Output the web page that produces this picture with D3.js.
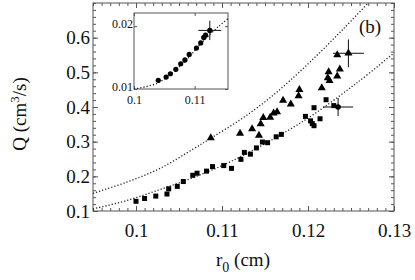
<!DOCTYPE html>
<html lang="en">
<head>
<meta charset="utf-8">
<title>Q vs r0</title>
<script src="https://cdn.jsdelivr.net/npm/d3@7"></script>
<style>
  body { margin: 0; background: #fff; }
  svg { display: block; }
  .frame { fill: none; stroke: #555; stroke-width: 1; }
  .axis path { display: none; }
  .axis line { stroke: #555; }
  .fit { fill: none; stroke: #222; stroke-width: 1.3; stroke-dasharray: 1.2, 2; }
  .err { stroke: #111; stroke-width: 1; }
</style>
</head>
<body>
<script>
// main panel: squares
var sqR = [0.1000, 0.1010, 0.1023, 0.1036, 0.1038, 0.1048, 0.1055, 0.1066, 0.1071, 0.1082,
           0.1089, 0.1102, 0.1111, 0.1122, 0.1126, 0.1133, 0.1140, 0.1147, 0.1153, 0.1163,
           0.1169, 0.1197, 0.1203, 0.1205, 0.1207, 0.1207, 0.1214, 0.1221, 0.1230];
var sqQ = [0.128, 0.136, 0.143, 0.149, 0.164, 0.171, 0.185, 0.203, 0.209, 0.215,
           0.228, 0.231, 0.223, 0.249, 0.269, 0.264, 0.282, 0.299, 0.297, 0.314,
           0.321, 0.373, 0.360, 0.352, 0.346, 0.398, 0.366, 0.421, 0.404];

// main panel: triangles
var triR = [0.1087, 0.1121, 0.1135, 0.1143, 0.1145, 0.1148, 0.1156, 0.1160, 0.1164, 0.1171,
            0.1180, 0.1189, 0.1190, 0.1216, 0.1223, 0.1225, 0.1224, 0.1234, 0.1237, 0.1234];
var triQ = [0.311, 0.324, 0.337, 0.318, 0.351, 0.369, 0.370, 0.382, 0.386, 0.419,
            0.408, 0.432, 0.450, 0.455, 0.484, 0.476, 0.501, 0.489, 0.509, 0.550];

// points with error bars [r, Q, dr, dQ]
var errCircle = [0.1235, 0.400, 0.00175, 0.026];
var errTri = [0.1247, 0.555, 0.0018, 0.040];

// dotted fit curves
var upperR = [0.0950, 0.0989, 0.1028, 0.1066, 0.1087, 0.1121, 0.1152, 0.1179, 0.1210, 0.1241, 0.1270];
var upperQ = [0.151, 0.183, 0.223, 0.278, 0.310, 0.363, 0.419, 0.476, 0.548, 0.625, 0.700];
var lowerR = [0.0950, 0.0989, 0.1028, 0.1066, 0.1113, 0.1195, 0.1257, 0.1300];
var lowerQ = [0.106, 0.130, 0.162, 0.196, 0.246, 0.360, 0.470, 0.556];

// inset
var inR = [0.1040, 0.1053, 0.1060, 0.1069, 0.1077, 0.1084, 0.1091, 0.1103, 0.1110, 0.1115, 0.1118];
var inQ = [0.01138, 0.0119, 0.01243, 0.01314, 0.01402, 0.01463, 0.01551, 0.01651, 0.01733, 0.01821, 0.01857];
var inErr = [0.1125, 0.01933, 0.0019, 0.00154];
var inFitR = [0.1000, 0.1040, 0.1080, 0.1110, 0.1140, 0.1155];
var inFitQ = [0.0100, 0.0110, 0.0140, 0.0172, 0.0200, 0.0212];

var xTicks = [0.10, 0.11, 0.12, 0.13];
var yTicks = [0.1, 0.2, 0.3, 0.4, 0.5, 0.6];
var inXTicks = [0.10, 0.11];
var inYTicks = [0.01, 0.02];

var serif = '"Liberation Serif", "Times New Roman", Times, serif';
var w = 415, h = 280;
var svg = d3.select("body").append("svg").attr("width", w).attr("height", h);

var x = d3.scaleLinear().domain([0.095, 0.13]).range([93, 394]);
var y = d3.scaleLinear().domain([0.1, 0.7]).range([211, 3]);

function ticksEvery(scale, step) {
  var d = scale.domain(), out = [];
  for (var v = Math.ceil(d[0] / step - 1e-6) * step; v <= d[1] + 1e-9; v += step) out.push(+v.toFixed(6));
  return out;
}

// ticks pointing inward on all four sides
function drawTicks(g, xs, ys, xv, yv, len) {
  var x0 = xs.range()[0], x1 = xs.range()[1], y0 = ys.range()[0], y1 = ys.range()[1];
  g.append("g").attr("class", "axis").attr("transform", "translate(0," + y0 + ")")
    .call(d3.axisBottom(xs).tickValues(xv).tickSize(-len).tickFormat(""));
  g.append("g").attr("class", "axis").attr("transform", "translate(0," + y1 + ")")
    .call(d3.axisTop(xs).tickValues(xv).tickSize(-len).tickFormat(""));
  g.append("g").attr("class", "axis").attr("transform", "translate(" + x0 + ",0)")
    .call(d3.axisLeft(ys).tickValues(yv).tickSize(-len).tickFormat(""));
  g.append("g").attr("class", "axis").attr("transform", "translate(" + x1 + ",0)")
    .call(d3.axisRight(ys).tickValues(yv).tickSize(-len).tickFormat(""));
}

function labelStyle(sel, size) {
  sel.attr("font-family", serif).attr("font-size", size)
    .selectAll("text").attr("fill", "#111");
}

var main = svg.append("g");
drawTicks(main, x, y, ticksEvery(x, 0.001), ticksEvery(y, 0.02), 3);
drawTicks(main, x, y, xTicks, yTicks, 5);

// tick labels
main.append("g").attr("class", "axis").attr("transform", "translate(0,211)")
  .call(d3.axisBottom(x).tickValues(xTicks).tickSize(0).tickPadding(8).tickFormat(d3.format(".2~f")))
  .call(labelStyle, 19)
  .selectAll("text").attr("dy", "0.95em");
main.append("g").attr("class", "axis").attr("transform", "translate(93,0)")
  .call(d3.axisLeft(y).tickValues(yTicks).tickSize(0).tickPadding(3).tickFormat(d3.format(".1f")))
  .call(labelStyle, 19);

main.append("rect").attr("class", "frame").attr("x", 93).attr("y", 3).attr("width", 301).attr("height", 208);

// fit curves
svg.append("clipPath").attr("id", "clipMain").append("rect")
  .attr("x", 93).attr("y", 3).attr("width", 301).attr("height", 208);
var line = d3.line().curve(d3.curveCatmullRom);
main.append("path").attr("class", "fit").attr("clip-path", "url(#clipMain)")
  .attr("d", line(upperR.map(function(r, i) { return [x(r), y(upperQ[i])]; })));
main.append("path").attr("class", "fit").attr("clip-path", "url(#clipMain)")
  .attr("d", line(lowerR.map(function(r, i) { return [x(r), y(lowerQ[i])]; })));

// squares
var sq = 5;
main.selectAll(".sq").data(sqR).enter().append("rect")
  .attr("x", function(d) { return x(d) - sq / 2; })
  .attr("y", function(d, i) { return y(sqQ[i]) - sq / 2; })
  .attr("width", sq).attr("height", sq).attr("fill", "#000");

// triangles
var tri = d3.symbol().type(d3.symbolTriangle).size(28);
main.selectAll(".tri").data(triR).enter().append("path")
  .attr("d", tri)
  .attr("transform", function(d, i) { return "translate(" + x(d) + "," + y(triQ[i]) + ")"; })
  .attr("fill", "#000");

function errorBar(g, xs, ys, e, marker) {
  g.append("line").attr("class", "err")
    .attr("x1", xs(e[0] - e[2])).attr("x2", xs(e[0] + e[2])).attr("y1", ys(e[1])).attr("y2", ys(e[1]));
  g.append("line").attr("class", "err")
    .attr("x1", xs(e[0])).attr("x2", xs(e[0])).attr("y1", ys(e[1] - e[3])).attr("y2", ys(e[1] + e[3]));
  g.append("path").attr("d", marker)
    .attr("transform", "translate(" + xs(e[0]) + "," + ys(e[1]) + ")").attr("fill", "#000");
}
errorBar(main, x, y, errCircle, d3.symbol().type(d3.symbolCircle).size(24)());
errorBar(main, x, y, errTri, tri());

main.append("text").attr("x", 370).attr("y", 33).attr("font-family", serif).attr("fill", "#111")
  .attr("text-anchor", "middle").attr("font-size", 19).text("(b)");

// axis titles
svg.append("text").attr("x", 243).attr("y", 266).attr("font-family", serif).attr("fill", "#111")
  .attr("text-anchor", "middle").attr("font-size", 19)
  .html('r<tspan dy="6" font-size="14">0</tspan><tspan dy="-6"> (cm)</tspan>');
svg.append("text").attr("transform", "translate(26,114) rotate(-90)").attr("font-family", serif).attr("fill", "#111")
  .attr("text-anchor", "middle").attr("font-size", 19)
  .html('Q (cm<tspan dy="-7" font-size="13">3</tspan><tspan dy="7">/s)</tspan>');

// inset
var ix = d3.scaleLinear().domain([0.1, 0.1155]).range([134, 228]);
var iy = d3.scaleLinear().domain([0.01, 0.0221]).range([89, 13]);
var inset = svg.append("g");
inset.append("rect").attr("x", 134).attr("y", 13).attr("width", 94).attr("height", 76).attr("fill", "#fff");
drawTicks(inset, ix, iy, inXTicks, inYTicks, 3);
inset.append("g").attr("class", "axis").attr("transform", "translate(0,89)")
  .call(d3.axisBottom(ix).tickValues(inXTicks).tickSize(0).tickPadding(6).tickFormat(d3.format(".2~f")))
  .call(labelStyle, 12);
inset.append("g").attr("class", "axis").attr("transform", "translate(134,0)")
  .call(d3.axisLeft(iy).tickValues(inYTicks).tickSize(0).tickPadding(1).tickFormat(d3.format(".2f")))
  .call(labelStyle, 12)
  .selectAll("text").attr("dy", "0.1em");
inset.append("rect").attr("class", "frame").attr("x", 134).attr("y", 13).attr("width", 94).attr("height", 76);
svg.append("clipPath").attr("id", "clipIn").append("rect").attr("x", 134).attr("y", 13).attr("width", 94).attr("height", 76);
inset.append("path").attr("class", "fit").attr("clip-path", "url(#clipIn)")
  .attr("d", line(inFitR.map(function(r, i) { return [ix(r), iy(inFitQ[i])]; })));
inset.selectAll(".dot").data(inR).enter().append("circle")
  .attr("cx", function(d) { return ix(d); })
  .attr("cy", function(d, i) { return iy(inQ[i]); })
  .attr("r", 2.6).attr("fill", "#000");
errorBar(inset, ix, iy, inErr, d3.symbol().type(d3.symbolCircle).size(22)());
</script>
</body>
</html>
